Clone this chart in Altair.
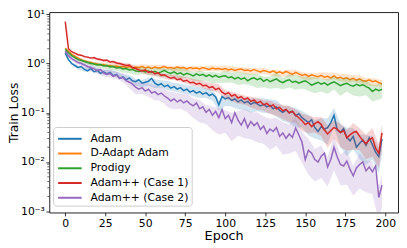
import altair as alt
import pandas as pd

names = ["Adam", "D-Adapt Adam", "Prodigy", "Adam++ (Case 1)", "Adam++ (Case 2)"]
colors = ["#1f77b4", "#ff7f0e", "#2ca02c", "#d62728", "#9467bd"]

# epochs of the mean curves
epochs = list(range(0, 200, 2))
# epochs at which the shaded std band is sampled
band_epochs = list(range(0, 197, 4)) + [198]

# mean train loss, read as log10(loss) off the log axis
adam_log10 = [
    0.21, 0.08, 0.00, -0.04, -0.08, -0.06, -0.12, -0.15, -0.10, -0.17,
    -0.14, -0.20, -0.17, -0.21, -0.18, -0.25, -0.22, -0.30, -0.27, -0.33,
    -0.29, -0.35, -0.37, -0.33, -0.40, -0.38, -0.36, -0.30, -0.40, -0.44,
    -0.41, -0.47, -0.44, -0.50, -0.47, -0.52, -0.49, -0.55, -0.52, -0.58,
    -0.55, -0.60, -0.57, -0.62, -0.59, -0.65, -0.62, -0.68, -0.84, -0.67,
    -0.72, -0.69, -0.75, -0.72, -0.78, -0.74, -0.80, -0.77, -0.83, -0.79,
    -0.82, -0.86, -0.83, -0.88, -0.85, -0.92, -0.88, -0.95, -0.99, -0.94,
    -1.00, -0.97, -1.06, -1.02, -1.10, -1.15, -1.20, -1.14, -1.30, -1.38,
    -1.28, -1.33, -1.30, -1.20, -1.05, -1.35, -1.40, -1.32, -1.50, -1.57,
    -1.48, -1.70, -1.62, -1.55, -1.66, -1.51, -1.65, -1.80, -1.89, -1.53,
]
dadapt_log10 = [
    0.31, 0.25, 0.19, 0.15, 0.11, 0.08, 0.05, 0.03, 0.02, 0.00,
    -0.01, -0.03, -0.02, -0.05, -0.04, -0.06, -0.05, -0.07, -0.06, -0.08,
    -0.06, -0.09, -0.07, -0.08, -0.06, -0.09, -0.07, -0.10, -0.07, -0.09,
    -0.08, -0.06, -0.09, -0.08, -0.10, -0.07, -0.09, -0.08, -0.11, -0.08,
    -0.10, -0.09, -0.11, -0.08, -0.10, -0.12, -0.09, -0.11, -0.10, -0.12,
    -0.10, -0.13, -0.11, -0.14, -0.12, -0.11, -0.14, -0.13, -0.15, -0.12,
    -0.15, -0.17, -0.14, -0.16, -0.18, -0.15, -0.19, -0.17, -0.20, -0.16,
    -0.19, -0.22, -0.18, -0.21, -0.24, -0.22, -0.26, -0.23, -0.25, -0.27,
    -0.24, -0.28, -0.26, -0.29, -0.25, -0.30, -0.28, -0.31, -0.29, -0.33,
    -0.30, -0.34, -0.31, -0.35, -0.36, -0.33, -0.37, -0.35, -0.39, -0.41,
]
prodigy_log10 = [
    0.29, 0.22, 0.16, 0.12, 0.08, 0.06, 0.04, 0.02, 0.00, -0.01,
    -0.03, -0.02, -0.05, -0.04, -0.07, -0.06, -0.09, -0.08, -0.11, -0.10,
    -0.13, -0.12, -0.15, -0.16, -0.14, -0.17, -0.15, -0.18, -0.16, -0.19,
    -0.17, -0.14, -0.18, -0.20, -0.17, -0.21, -0.19, -0.23, -0.20, -0.22,
    -0.25, -0.21, -0.24, -0.22, -0.26, -0.23, -0.27, -0.24, -0.28, -0.26,
    -0.25, -0.29, -0.27, -0.31, -0.28, -0.32, -0.29, -0.35, -0.31, -0.29,
    -0.33, -0.30, -0.36, -0.32, -0.37, -0.34, -0.31, -0.36, -0.39, -0.35,
    -0.33, -0.38, -0.36, -0.40, -0.37, -0.35, -0.39, -0.44, -0.41, -0.38,
    -0.42, -0.39, -0.44, -0.40, -0.37, -0.41, -0.45, -0.42, -0.40, -0.44,
    -0.46, -0.42, -0.45, -0.43, -0.47, -0.50, -0.57, -0.52, -0.55, -0.52,
]
case1_log10 = [
    0.85, 0.30, 0.24, 0.21, 0.18, 0.17, 0.14, 0.13, 0.11, 0.12,
    0.09, 0.08, 0.06, 0.07, 0.03, 0.04, 0.01, 0.00, -0.02, -0.04,
    -0.03, -0.08, -0.10, -0.13, -0.15, -0.13, -0.18, -0.16, -0.21, -0.19,
    -0.24, -0.23, -0.27, -0.30, -0.28, -0.33, -0.31, -0.36, -0.34, -0.39,
    -0.38, -0.42, -0.40, -0.45, -0.44, -0.49, -0.47, -0.53, -0.50, -0.58,
    -0.62, -0.59, -0.66, -0.63, -0.70, -0.67, -0.73, -0.70, -0.77, -0.74,
    -0.80, -0.77, -0.84, -0.81, -0.87, -0.84, -0.92, -0.89, -0.96, -0.93,
    -1.00, -0.97, -1.05, -1.10, -1.16, -1.24, -1.20, -1.28, -1.22, -1.18,
    -1.24, -1.35, -1.43, -1.36, -1.30, -1.33, -1.40, -1.36, -1.51, -1.45,
    -1.40, -1.38, -1.48, -1.56, -1.63, -1.55, -1.51, -1.72, -1.82, -1.41,
]
case2_log10 = [
    0.25, 0.16, 0.10, 0.06, 0.02, 0.00, -0.03, -0.06, -0.08, -0.11,
    -0.14, -0.12, -0.19, -0.22, -0.20, -0.26, -0.23, -0.30, -0.28, -0.35,
    -0.38, -0.42, -0.48, -0.52, -0.49, -0.56, -0.52, -0.60, -0.57, -0.63,
    -0.60, -0.66, -0.70, -0.76, -0.72, -0.78, -0.74, -0.80, -0.76, -0.82,
    -0.86, -0.80, -0.92, -0.88, -0.99, -0.93, -1.05, -0.97, -1.10, -0.93,
    -1.12, -1.05, -1.20, -1.00, -1.15, -1.25, -1.12, -1.30, -1.18, -1.26,
    -1.20, -1.34, -1.27, -1.42, -1.33, -1.38, -1.30, -1.48, -1.41, -1.52,
    -1.43, -1.50, -1.31, -1.45, -1.60, -1.95, -1.76, -1.82, -1.95, -2.00,
    -1.88, -1.82, -2.10, -1.95, -1.70, -1.90, -2.05, -2.08, -1.98, -2.15,
    -2.28, -2.12, -2.05, -2.00, -2.18, -2.10, -2.20, -2.08, -2.72, -2.47,
]

# relative spread (std / mean) of each run
adam_rel = [
    0.10, 0.08, 0.09, 0.10, 0.12, 0.11, 0.13, 0.12, 0.14, 0.13,
    0.15, 0.17, 0.16, 0.18, 0.20, 0.17, 0.21, 0.19, 0.22, 0.20,
    0.23, 0.25, 0.22, 0.26, 0.24, 0.28, 0.25, 0.30, 0.27, 0.32,
    0.29, 0.33, 0.31, 0.36, 0.34, 0.38, 0.42, 0.37, 0.45, 0.40,
    0.48, 0.55, 0.42, 0.50, 0.58, 0.46, 0.52, 0.60, 0.50, 0.55,
    0.50,
]
dadapt_rel = [
    0.06, 0.05, 0.06, 0.07, 0.08, 0.07, 0.09, 0.08, 0.10, 0.09,
    0.11, 0.09, 0.12, 0.10, 0.11, 0.13, 0.10, 0.12, 0.14, 0.11,
    0.12, 0.13, 0.11, 0.14, 0.12, 0.15, 0.13, 0.12, 0.14, 0.16,
    0.13, 0.15, 0.12, 0.16, 0.14, 0.17, 0.13, 0.15, 0.18, 0.14,
    0.16, 0.19, 0.15, 0.17, 0.20, 0.16, 0.18, 0.17, 0.19, 0.16,
    0.18,
]
prodigy_rel = [
    0.07, 0.06, 0.08, 0.09, 0.10, 0.12, 0.11, 0.13, 0.12, 0.15,
    0.14, 0.17, 0.15, 0.18, 0.16, 0.22, 0.17, 0.20, 0.25, 0.18,
    0.21, 0.24, 0.19, 0.26, 0.22, 0.28, 0.23, 0.30, 0.25, 0.27,
    0.32, 0.24, 0.28, 0.35, 0.26, 0.30, 0.33, 0.27, 0.31, 0.36,
    0.29, 0.34, 0.30, 0.38, 0.32, 0.35, 0.40, 0.33, 0.37, 0.34,
    0.35,
]
case1_rel = [
    0.04, 0.03, 0.04, 0.05, 0.05, 0.06, 0.06, 0.07, 0.07, 0.08,
    0.09, 0.10, 0.09, 0.11, 0.12, 0.11, 0.13, 0.12, 0.14, 0.15,
    0.16, 0.15, 0.18, 0.17, 0.20, 0.19, 0.22, 0.24, 0.21, 0.25,
    0.27, 0.24, 0.30, 0.28, 0.32, 0.35, 0.30, 0.38, 0.40, 0.34,
    0.42, 0.48, 0.40, 0.50, 0.45, 0.55, 0.47, 0.52, 0.58, 0.50,
    0.55,
]
case2_rel = [
    0.10, 0.09, 0.10, 0.12, 0.14, 0.13, 0.16, 0.18, 0.17, 0.20,
    0.24, 0.28, 0.26, 0.30, 0.33, 0.31, 0.35, 0.38, 0.34, 0.40,
    0.43, 0.47, 0.42, 0.50, 0.55, 0.48, 0.58, 0.52, 0.60, 0.56,
    0.60, 0.56, 0.62, 0.58, 0.64, 0.60, 0.66, 0.62, 0.68, 0.64,
    0.64, 0.60, 0.66, 0.62, 0.67, 0.60, 0.68, 0.63, 0.65, 0.67,
    0.64,
]

x_ticks = [0, 25, 50, 75, 100, 125, 150, 175, 200]
y_ticks = [0.001, 0.01, 0.1, 1, 10]
minor_y_ticks = [
    0.002, 0.003, 0.004, 0.005, 0.006, 0.007, 0.008, 0.009,
    0.02, 0.03, 0.04, 0.05, 0.06, 0.07, 0.08, 0.09,
    0.2, 0.3, 0.4, 0.5, 0.6, 0.7, 0.8, 0.9,
    2, 3, 4, 5, 6, 7, 8, 9,
]

means = [adam_log10, dadapt_log10, prodigy_log10, case1_log10, case2_log10]
rels = [adam_rel, dadapt_rel, prodigy_rel, case1_rel, case2_rel]

line_rows, band_rows = [], []
for name, m, r in zip(names, means, rels):
    for e, v in zip(epochs, m):
        line_rows.append({"epoch": e, "loss": 10 ** v, "method": name})
    for e, s in zip(band_epochs, r):
        mv = 10 ** m[e // 2]
        band_rows.append({"epoch": e, "lo": mv * (1 - s), "hi": mv * (1 + s), "method": name})
line_df = pd.DataFrame(line_rows)
band_df = pd.DataFrame(band_rows)
minor_df = pd.DataFrame({"v": minor_y_ticks})

x_enc = alt.X("epoch:Q", title="Epoch",
              scale=alt.Scale(domain=[-10, 208], nice=False, zero=False),
              axis=alt.Axis(values=x_ticks, format="d"))
y_scale = alt.Scale(type="log", domain=[10 ** -3.025, 10 ** 1.045], nice=False)
y_axis = alt.Axis(
    values=y_ticks, title="Train Loss",
    labelExpr="datum.value >= 5 ? '10¹' : datum.value >= 0.5 ? '10⁰' : "
              "datum.value >= 0.05 ? '10⁻¹' : datum.value >= 0.005 ? '10⁻²' : '10⁻³'",
)

legend = alt.Legend(
    title=None, orient="none", legendX=4, legendY=117,
    symbolType="M-1.5,0H1.5", symbolSize=256, symbolStrokeWidth=2,
    symbolOffset=5, labelOffset=12, padding=3, rowPadding=1,
    labelFontSize=11, labelFont="DejaVu Sans", labelColor="#000",
    strokeColor="#cccccc", fillColor="rgba(255,255,255,0.8)", cornerRadius=3,
)

layers = []
for name, col in zip(names, colors):
    flt = alt.FieldEqualPredicate(field="method", equal=name)
    band = alt.Chart(band_df).transform_filter(flt).mark_area(
        color=col, opacity=0.2, clip=True, interpolate="linear"
    ).encode(x=x_enc, y=alt.Y("lo:Q", scale=y_scale, axis=y_axis), y2="hi:Q")
    line = alt.Chart(line_df).transform_filter(flt).mark_line(
        strokeWidth=1.5, clip=True
    ).encode(
        x=x_enc,
        y=alt.Y("loss:Q", scale=y_scale, axis=y_axis),
        color=alt.Color("method:N", scale=alt.Scale(domain=names, range=colors), legend=legend),
    )
    layers += [band, line]

minor = alt.Chart(minor_df).mark_rule(color="#000", strokeWidth=0.6).encode(
    y=alt.Y("v:Q", scale=y_scale, axis=y_axis),
    x=alt.value(-2), x2=alt.value(0),
)
layers.append(minor)

chart = alt.layer(*layers).properties(
    width=355, height=204,
    padding={"left": 42, "top": 2, "right": 1, "bottom": 34},
    autosize=alt.AutoSizeParams(type="none"),
).configure_view(stroke="#222", strokeWidth=1).configure_axis(
    labelFont="DejaVu Sans", titleFont="DejaVu Sans",
    labelFontSize=11, titleFontSize=12.5, labelColor="#000", titleColor="#000",
    titleFontWeight="normal", tickColor="#000", tickSize=3.5, tickWidth=0.8,
    domain=False, grid=False, labelPadding=1.5,
).configure_axisY(titlePadding=0).configure_axisX(titlePadding=2, titleFontSize=13)

chart.save("out.html", embed_options={"renderer": "svg", "actions": False})
